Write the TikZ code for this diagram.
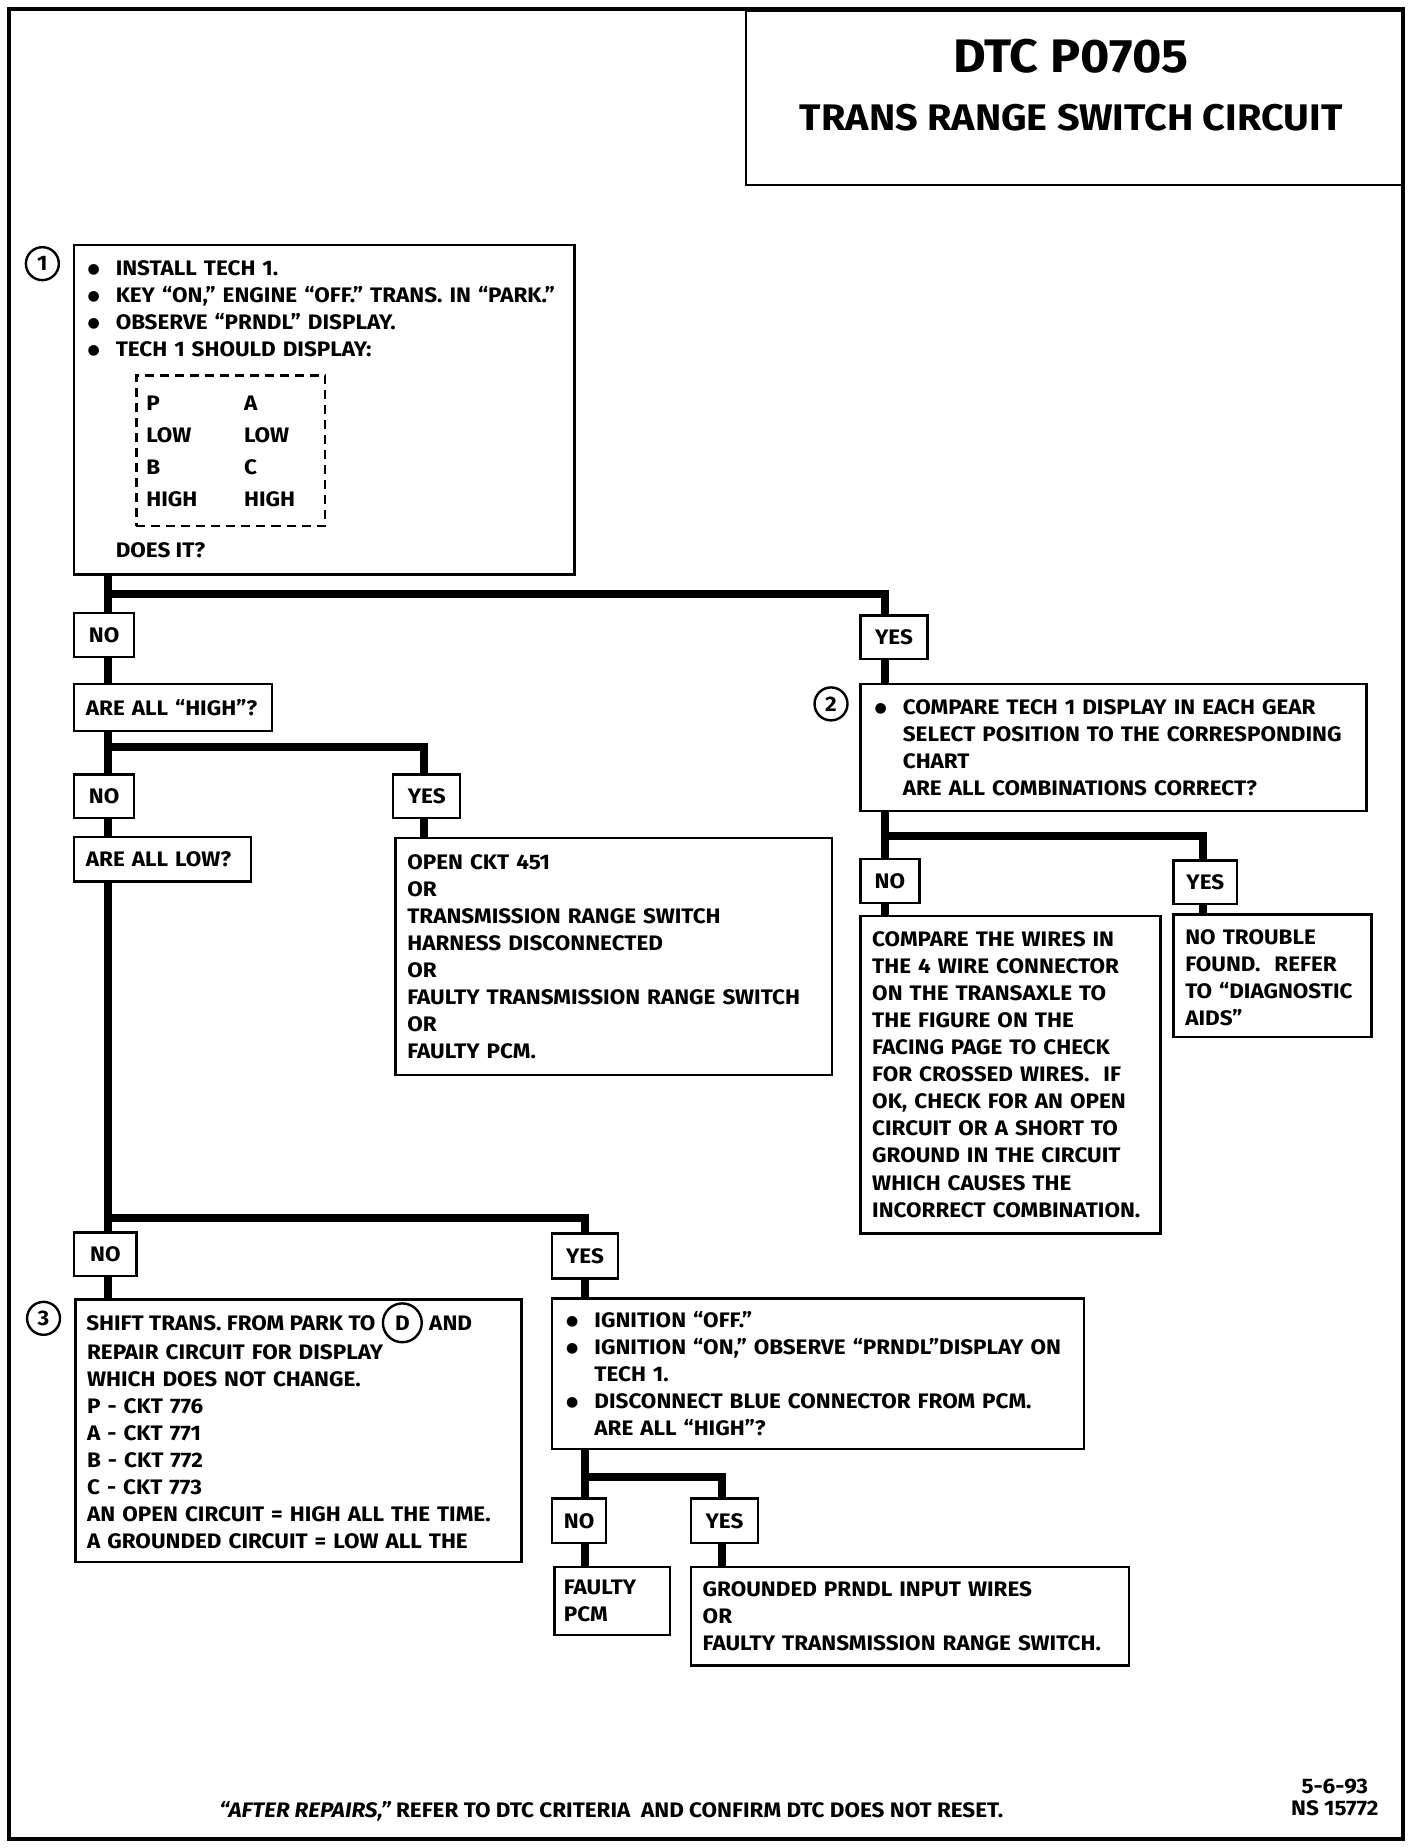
\documentclass[tikz,border=0pt]{standalone}
\usepackage{fontspec}
\setmainfont{Fira Sans}[FakeStretch=1.07]
\newfontfamily\dvs{DejaVu Sans}
\newlength\pu
\setlength\pu{0.5884pt}
\newcommand\bl{\makebox[24\pu][l]{\raisebox{0.9pt}{\dvs\fontsize{7}{8}\selectfont ●}}}
\newcommand\bi{\hspace*{24\pu}}
\tikzset{
  every node/.style={font=\fontsize{10.5}{13.5}\selectfont\bfseries},
  box/.style={draw, line width=1.2pt, anchor=north west, inner ysep=0pt, align=left},
  lbl/.style={draw, line width=1.2pt, anchor=north west, inner sep=0pt, align=center},
  lsz/.style n args={2}{minimum width=#1\pu, minimum height=#2\pu},
  sz/.code n args={3}{%
    \pgfmathsetlengthmacro\tmpw{(#1-2*#3)*0.5884pt}%
    \pgfmathsetlengthmacro\tmpa{#1*0.5884pt}%
    \pgfmathsetlengthmacro\tmpb{#2*0.5884pt}%
    \pgfmathsetlengthmacro\tmpc{#3*0.5884pt}%
    \edef\tmp{\noexpand\tikzset{minimum width=\tmpa,minimum height=\tmpb,text width=\tmpw,inner xsep=\tmpc}}\tmp},
  txt/.style={anchor=base west, inner sep=0pt, align=left},
  conn/.style={line width=4pt},
  num/.style={draw, circle, line width=1.2pt, minimum size=28\pu, inner sep=0pt},
}
\begin{document}
\begin{tikzpicture}[x=0.5884pt, y=-0.5884pt]
\useasboundingbox (0,0) rectangle (1210,1570);
% title
\node[draw, line width=1.2pt, anchor=north west, minimum width=559\pu, minimum height=148\pu, inner sep=0pt] (tb) at (633,8) {};
\draw[line width=2pt] (8,8) rectangle (1192,1562);
\node (t1) at (910,48) {\fontsize{23.5}{28}\selectfont DTC P0705};
\node (t2) at (910,100) {\fontsize{18.5}{22}\selectfont TRANS RANGE SWITCH CIRCUIT};
% box 1
\node[num] (n1) at (36,224) {1};
\node[box, sz={425}{280}{10}] (b1) at (62,207) {};
\node[txt, text width=405\pu] (b1t) at (74,234) {\bl INSTALL TECH 1.\\ \bl KEY “ON,” ENGINE “OFF.” TRANS. IN “PARK.”\\ \bl OBSERVE “PRNDL” DISPLAY.\\ \bl TECH 1 SHOULD DISPLAY:};
\node[draw, dash pattern=on 4.5pt off 3pt, line width=1.1pt, anchor=north west, minimum width=160\pu, minimum height=128\pu, inner sep=0pt] (tbl) at (115,318) {};
\node[txt, text width=150\pu, font=\fontsize{10.5}{15.9}\selectfont\bfseries] (tblt) at (124,349) {\makebox[83\pu][l]{P}A\\ \makebox[83\pu][l]{LOW}LOW\\ \makebox[83\pu][l]{B}C\\ \makebox[83\pu][l]{HIGH}HIGH};
\node[txt] (does) at (98,474) {DOES IT?};
% labels
\node[lbl, lsz={51}{37}] (no1) at (62,520) {NO};
\node[lbl, lsz={57}{37}] (yes1) at (730,522) {YES};
\node[box, sz={168}{40}{10}] (hi) at (62,580) {ARE ALL “HIGH”?};
\node[num] (n2) at (706,598) {2};
\node[box, sz={430}{108}{12}] (b2) at (730,580) {\bl COMPARE TECH 1 DISPLAY IN EACH GEAR\\ \bi SELECT POSITION TO THE CORRESPONDING\\ \bi CHART\\ \bi ARE ALL COMBINATIONS CORRECT?};
\node[lbl, lsz={51}{37}] (no2) at (62,657) {NO};
\node[lbl, lsz={57}{37}] (yes2) at (333,657) {YES};
\node[box, sz={150}{38}{10}] (lo) at (62,710) {ARE ALL LOW?};
\node[box, sz={371}{201}{10}] (ckt) at (335,711) {OPEN CKT 451\\OR\\TRANSMISSION RANGE SWITCH\\HARNESS DISCONNECTED\\OR\\FAULTY TRANSMISSION RANGE SWITCH\\OR\\FAULTY PCM.};
\node[lbl, lsz={50}{37}] (no3) at (730,729) {NO};
\node[lbl, lsz={54}{37}] (yes3) at (996,730) {YES};
\node[box, sz={255}{270}{10}] (wires) at (730,777) {COMPARE THE WIRES IN\\THE 4 WIRE CONNECTOR\\ON THE TRANSAXLE TO\\THE FIGURE ON THE\\FACING PAGE TO CHECK\\FOR CROSSED WIRES.\ \ IF\\OK, CHECK FOR AN OPEN\\CIRCUIT OR A SHORT TO\\GROUND IN THE CIRCUIT\\WHICH CAUSES THE\\INCORRECT COMBINATION.};
\node[box, sz={168}{104}{10}] (nt) at (996,776) {\strut NO TROUBLE\\FOUND.\ \ REFER\\TO “DIAGNOSTIC\\AIDS”};
\node[lbl, lsz={53}{37}] (no4) at (62,1046) {NO};
\node[lbl, lsz={56}{38}] (yes4) at (468,1047) {YES};
\node[num] (n3) at (37,1120) {3};
\node[box, sz={379}{223}{10}] (b3) at (63,1103) {\strut\\REPAIR CIRCUIT FOR DISPLAY\\WHICH DOES NOT CHANGE.\\P - CKT 776\\A - CKT 771\\B - CKT 772\\C - CKT 773\\AN OPEN CIRCUIT = HIGH ALL THE TIME.\\A GROUNDED CIRCUIT = LOW ALL THE};
\node[txt] (s1) at (73,1130) {SHIFT TRANS. FROM PARK TO};
\node[num, minimum size=33\pu, anchor=west] (dD) at ([xshift=5\pu]s1.east) {D};
\node[anchor=west, inner sep=0pt] (and) at ([xshift=5\pu]dD.east) {AND};
\node[box, sz={452}{128}{12}] (ign) at (468,1102) {\bl IGNITION “OFF.”\\ \bl IGNITION “ON,” OBSERVE “PRNDL”DISPLAY ON\\ \bi TECH 1.\\ \bl DISCONNECT BLUE CONNECTOR FROM PCM.\\ \bi ARE ALL “HIGH”?};
\node[lbl, lsz={46}{38}] (no5) at (468,1272) {NO};
\node[lbl, lsz={57}{38}] (yes5) at (586,1272) {YES};
\node[box, sz={98}{58}{8}] (fp) at (470,1330) {FAULTY\\PCM};
\node[box, sz={372}{84}{10}] (gr) at (586,1330) {GROUNDED PRNDL INPUT WIRES\\OR\\FAULTY TRANSMISSION RANGE SWITCH.};
% footer
\node[txt] (foot) at (186,1544) {\itshape “AFTER REPAIRS,”\upshape\ REFER TO DTC CRITERIA\ \ AND CONFIRM DTC DOES NOT RESET.};
\node[align=center, font=\fontsize{10.5}{10.8}\selectfont\bfseries] (date) at (1134,1527) {5-6-93\\NS 15772};
% columns
\coordinate (cA) at (92,0);
\coordinate (cB) at (360,0);
\coordinate (cC) at (752,0);
\coordinate (cD) at (1022,0);
\coordinate (cE) at (497,0);
\coordinate (cF) at (613,0);
\coordinate (j1) at (92,505);
\coordinate (j2) at (92,635);
\coordinate (j3) at (752,710);
\coordinate (j4) at (92,1035);
\coordinate (j5) at (497,1255);
% connectors
\draw[conn] (b1.south -| cA) -- (no1.north -| cA);
\draw[conn] (j1) -| (yes1.north -| cC);
\draw[conn] (no1.south -| cA) -- (hi.north -| cA);
\draw[conn] (yes1.south -| cC) -- (b2.north -| cC);
\draw[conn] (hi.south -| cA) -- (no2.north -| cA);
\draw[conn] (j2) -| (yes2.north -| cB);
\draw[conn] (no2.south -| cA) -- (lo.north -| cA);
\draw[conn] (yes2.south -| cB) -- (ckt.north -| cB);
\draw[conn] (b2.south -| cC) -- (no3.north -| cC);
\draw[conn] (j3) -| (yes3.north -| cD);
\draw[conn] (no3.south -| cC) -- (wires.north -| cC);
\draw[conn] (yes3.south -| cD) -- (nt.north -| cD);
\draw[conn] (lo.south -| cA) -- (no4.north -| cA);
\draw[conn] (j4) -| (yes4.north -| cE);
\draw[conn] (no4.south -| cA) -- (b3.north -| cA);
\draw[conn] (yes4.south -| cE) -- (ign.north -| cE);
\draw[conn] (ign.south -| cE) -- (no5.north -| cE);
\draw[conn] (j5) -| (yes5.north -| cF);
\draw[conn] (no5.south -| cE) -- (fp.north -| cE);
\draw[conn] (yes5.south -| cF) -- (gr.north -| cF);
\end{tikzpicture}
\end{document}
